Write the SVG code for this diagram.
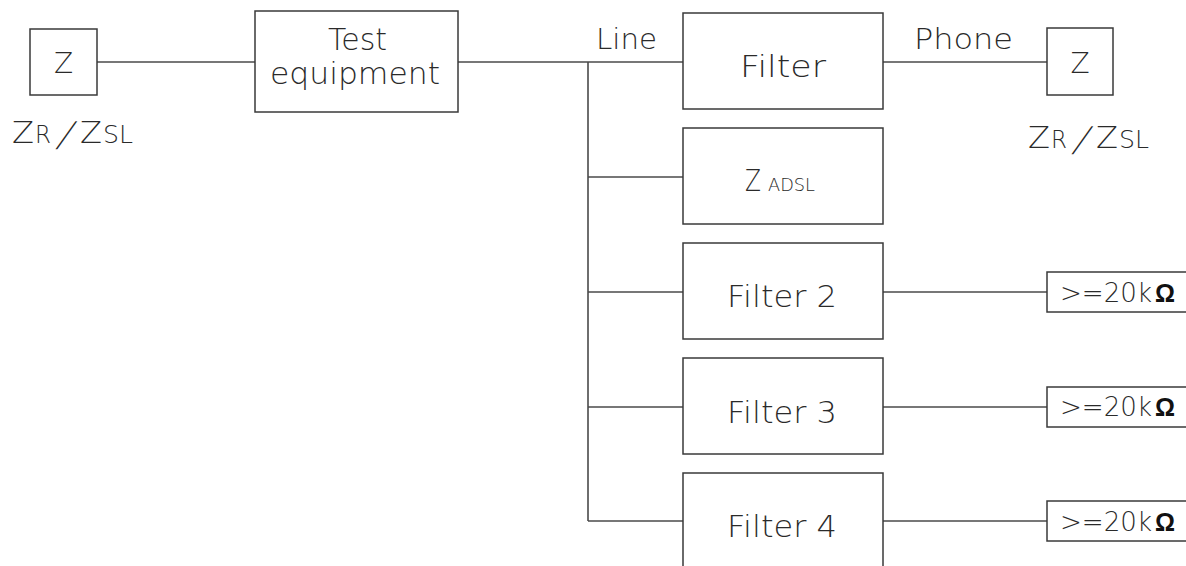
<svg xmlns="http://www.w3.org/2000/svg" width="1186" height="566" viewBox="0 0 1186 566">
  <style>
    .box { fill: #ffffff; stroke: #3a3a3a; stroke-width: 1.5; }
    .wire { fill: none; stroke: #4a4a4a; stroke-width: 1.6; }
    .t { font-family: "DejaVu Sans", Inter, "Liberation Sans", sans-serif; font-weight: 200; fill: #2a2a2a; }
    .big { font-size: 31px; }
    .mid { font-size: 28px; }
    .sub { font-size: 25px; }
    .small { font-size: 18px; }
    .slash { font-size: 34px; }
    .ohm { font-family: "Liberation Sans", Arial, sans-serif; font-weight: bold; font-size: 25px; fill: #111; }
    .res { font-size: 26px; }
  </style>
  <rect width="1186" height="566" fill="#ffffff"/>

  <g id="connectors">
    <line class="wire" x1="97" y1="62" x2="255" y2="62"/>
    <line class="wire" x1="458" y1="62" x2="683" y2="62"/>
    <line class="wire" x1="588" y1="62" x2="588" y2="521"/>
    <line class="wire" x1="588" y1="177" x2="683" y2="177"/>
    <line class="wire" x1="588" y1="292" x2="683" y2="292"/>
    <line class="wire" x1="588" y1="407" x2="683" y2="407"/>
    <line class="wire" x1="588" y1="521" x2="683" y2="521"/>
    <line class="wire" x1="883" y1="62" x2="1047" y2="62"/>
    <line class="wire" x1="883" y1="292" x2="1047" y2="292"/>
    <line class="wire" x1="883" y1="407" x2="1047" y2="407"/>
    <line class="wire" x1="883" y1="521" x2="1047" y2="521"/>
    <text class="t mid" x="596" y="49" textLength="61" lengthAdjust="spacingAndGlyphs">Line</text>
    <text class="t mid" x="914" y="49" textLength="99" lengthAdjust="spacingAndGlyphs">Phone</text>
  </g>

  <g id="z-left">
    <rect class="box" x="30" y="29" width="67" height="66"/>
    <text class="t mid" x="63.5" y="73" text-anchor="middle">Z</text>
    <text class="t big" x="12" y="143" textLength="22" lengthAdjust="spacingAndGlyphs">Z</text>
    <text class="t sub" x="35" y="143" textLength="16" lengthAdjust="spacingAndGlyphs">R</text>
    <text class="t slash" transform="translate(62,146) skewX(-22)" x="0" y="0" text-anchor="middle">/</text>
    <text class="t big" x="80" y="143" textLength="22" lengthAdjust="spacingAndGlyphs">Z</text>
    <text class="t sub" x="103" y="143" textLength="30" lengthAdjust="spacingAndGlyphs">SL</text>
  </g>

  <g id="test-equipment">
    <rect class="box" x="255" y="11" width="203" height="101"/>
    <text class="t big" x="328" y="50" textLength="59" lengthAdjust="spacingAndGlyphs">Test</text>
    <text class="t big" x="270" y="84" textLength="170" lengthAdjust="spacingAndGlyphs">equipment</text>
  </g>

  <g id="filter">
    <rect class="box" x="683" y="13" width="200" height="96"/>
    <text class="t big" x="740" y="77" textLength="86" lengthAdjust="spacingAndGlyphs">Filter</text>
  </g>

  <g id="z-adsl">
    <rect class="box" x="683" y="128" width="200" height="96"/>
    <text class="t big" x="745" y="191" textLength="16" lengthAdjust="spacingAndGlyphs">Z</text>
    <text class="t small" x="768" y="191" textLength="47" lengthAdjust="spacingAndGlyphs">ADSL</text>
  </g>

  <g id="filter-2">
    <rect class="box" x="683" y="243" width="200" height="96"/>
    <text class="t big" x="727" y="307" textLength="110" lengthAdjust="spacingAndGlyphs">Filter 2</text>
  </g>

  <g id="filter-3">
    <rect class="box" x="683" y="358" width="200" height="96"/>
    <text class="t big" x="727" y="423" textLength="110" lengthAdjust="spacingAndGlyphs">Filter 3</text>
  </g>

  <g id="filter-4">
    <rect class="box" x="683" y="473" width="200" height="100"/>
    <text class="t big" x="727" y="537" textLength="110" lengthAdjust="spacingAndGlyphs">Filter 4</text>
  </g>

  <g id="z-right">
    <rect class="box" x="1047" y="28" width="66" height="67"/>
    <text class="t mid" x="1080" y="73" text-anchor="middle">Z</text>
    <text class="t big" x="1028" y="148" textLength="22" lengthAdjust="spacingAndGlyphs">Z</text>
    <text class="t sub" x="1051" y="148" textLength="16" lengthAdjust="spacingAndGlyphs">R</text>
    <text class="t slash" transform="translate(1078,151) skewX(-22)" x="0" y="0" text-anchor="middle">/</text>
    <text class="t big" x="1096" y="148" textLength="22" lengthAdjust="spacingAndGlyphs">Z</text>
    <text class="t sub" x="1119" y="148" textLength="30" lengthAdjust="spacingAndGlyphs">SL</text>
  </g>

  <g id="load-2">
    <rect class="box" x="1047" y="272" width="150" height="40"/>
    <text class="t res" x="1060" y="302" textLength="92" lengthAdjust="spacingAndGlyphs">&gt;=20k</text>
    <text class="ohm" x="1155" y="302" textLength="20" lengthAdjust="spacingAndGlyphs">Ω</text>
  </g>

  <g id="load-3">
    <rect class="box" x="1047" y="387" width="150" height="40"/>
    <text class="t res" x="1060" y="416" textLength="92" lengthAdjust="spacingAndGlyphs">&gt;=20k</text>
    <text class="ohm" x="1155" y="416" textLength="20" lengthAdjust="spacingAndGlyphs">Ω</text>
  </g>

  <g id="load-4">
    <rect class="box" x="1047" y="501" width="150" height="40"/>
    <text class="t res" x="1060" y="531" textLength="92" lengthAdjust="spacingAndGlyphs">&gt;=20k</text>
    <text class="ohm" x="1155" y="531" textLength="20" lengthAdjust="spacingAndGlyphs">Ω</text>
  </g>
</svg>
